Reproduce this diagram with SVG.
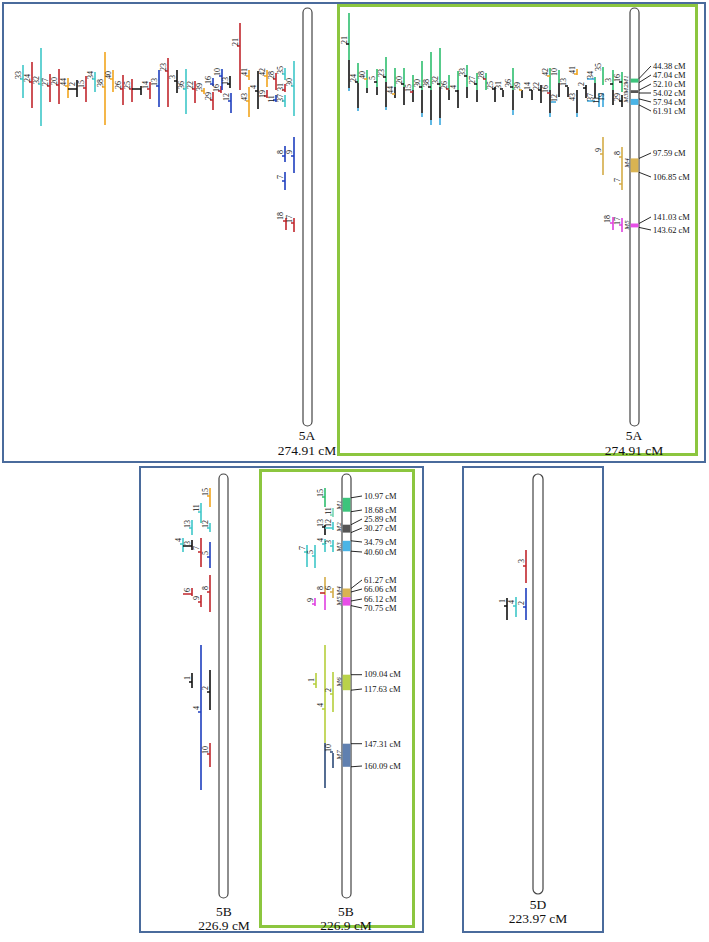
<svg xmlns="http://www.w3.org/2000/svg" width="709" height="942" viewBox="0 0 709 942">
<style>
.q{fill:none;stroke-width:1.6}
.r{stroke:#c1272d}.c{stroke:#3fc7c9}.o{stroke:#f2a51f}.b{stroke:#1f3fbf}.k{stroke:#111}
.g{stroke:#2fbf6f}.t{stroke:#3aa7dc}.au{stroke:#d4ac48}.m{stroke:#e040e0}.yg{stroke:#b6cf3c}.nv{stroke:#2c4a78}.tl{stroke:#79d6b4}
.n{font-family:"Liberation Serif",serif;font-size:8px;text-anchor:middle;dominant-baseline:central;fill:#111}
.mi{font-family:"Liberation Serif",serif;font-size:7px;font-style:italic;text-anchor:middle;dominant-baseline:central;fill:#111}
.cm{font-family:"Liberation Serif",serif;font-size:8.5px;dominant-baseline:central;fill:#111}
.ttl{font-family:"Liberation Serif",serif;font-size:13.5px;text-anchor:middle;fill:#111}
.chr{fill:#fff;stroke:#444;stroke-width:1.2}
.ld{stroke:#111;stroke-width:0.9;fill:none}
.pb{fill:none;stroke:#4a6b9c;stroke-width:2}
.pg{fill:none;stroke:#8cc63f;stroke-width:3}
</style>
<g id="panels">
<rect class="pb" x="3" y="3" width="702" height="459"/>
<rect class="pg" x="338.5" y="5.5" width="358" height="449"/>
<rect class="pb" x="140" y="467" width="283" height="465"/>
<rect class="pg" x="260.5" y="470.5" width="153" height="456"/>
<rect class="pb" x="463" y="467" width="140" height="465"/>
</g>
<g id="chr5A-left">
<rect class="chr" x="303" y="8" width="9" height="418" rx="4.5"/>
<text class="ttl" x="307" y="440">5A</text>
<text class="ttl" x="307" y="455">274.91 cM</text>
<path class="q c" d="M23 65V98M20 79H23M41 48V126M38 84H41M95 72V92M92 79H95M186 69V114M183 89H186M285 68V80M282 74H285M285 95V107M282 101H285M294 61V116M291 86H294"/>
<path class="q r" d="M32 62V108M29 82H32M50 74V102M47 86H50M59 69V104M56 85H59M86 76V102M83 88H86M123 75V105M120 89H123M132 79V102M129 89H132M150 82V99M147 89H150M168 58V107M165 71H168M195 81V103M192 89H195M213 92V110M210 100H213M221 86V93M218 91H221M240 23V90M237 46H240M267 90V98M264 96H267M276 73V90M273 79H276M285 84V92M282 90H285M286 218V230M283 221H286M294 218V232M291 223H294"/>
<path class="q o" d="M68 78V98M65 86H68M105 52V125M102 87H105M113 70V92M110 79H113M204 88V94M201 91H204M249 70V80M246 76H249M249 87V117M246 101H249M267 70V87M264 76H267"/>
<path class="q k" d="M77 80V97M68 89H77M141 86V95M132 89H141M177 70V93M174 81H177M230 76V88M227 84H230M258 71V109M255 91H258"/>
<path class="q b" d="M159 70V107M156 86H159M213 78V86M210 84H213M222 69V90M219 76H222M231 93V113M228 101H231M276 95V102M273 100H276M294 137V173M291 156H294M285 146V162M282 156H285M285 172V190M282 181H285"/>
<text class="n" transform="translate(18,75) rotate(-90)">33</text>
<text class="n" transform="translate(27,78) rotate(-90)">24</text>
<text class="n" transform="translate(36,80) rotate(-90)">32</text>
<text class="n" transform="translate(45,82) rotate(-90)">27</text>
<text class="n" transform="translate(54,81) rotate(-90)">20</text>
<text class="n" transform="translate(63,82) rotate(-90)">44</text>
<text class="n" transform="translate(72,84) rotate(-90)">2</text>
<text class="n" transform="translate(81,84) rotate(-90)">15</text>
<text class="n" transform="translate(90,75) rotate(-90)">34</text>
<text class="n" transform="translate(100,83) rotate(-90)">38</text>
<text class="n" transform="translate(108,75) rotate(-90)">40</text>
<text class="n" transform="translate(118,85) rotate(-90)">26</text>
<text class="n" transform="translate(127,85) rotate(-90)">25</text>
<text class="n" transform="translate(145,85) rotate(-90)">14</text>
<text class="n" transform="translate(154,82) rotate(-90)">13</text>
<text class="n" transform="translate(163,67) rotate(-90)">23</text>
<text class="n" transform="translate(172,77) rotate(-90)">3</text>
<text class="n" transform="translate(181,85) rotate(-90)">36</text>
<text class="n" transform="translate(190,85) rotate(-90)">22</text>
<text class="n" transform="translate(199,87) rotate(-90)">39</text>
<text class="n" transform="translate(208,96) rotate(-90)">29</text>
<text class="n" transform="translate(208,80) rotate(-90)">16</text>
<text class="n" transform="translate(217,72) rotate(-90)">10</text>
<text class="n" transform="translate(216,88) rotate(-90)">16</text>
<text class="n" transform="translate(225,81) rotate(-90)">13</text>
<text class="n" transform="translate(226,97) rotate(-90)">12</text>
<text class="n" transform="translate(235,42) rotate(-90)">21</text>
<text class="n" transform="translate(244,72) rotate(-90)">41</text>
<text class="n" transform="translate(244,97) rotate(-90)">43</text>
<text class="n" transform="translate(253,87) rotate(-90)">4</text>
<text class="n" transform="translate(262,72) rotate(-90)">42</text>
<text class="n" transform="translate(262,94) rotate(-90)">19</text>
<text class="n" transform="translate(271,75) rotate(-90)">28</text>
<text class="n" transform="translate(271,99) rotate(-90)">11</text>
<text class="n" transform="translate(280,70) rotate(-90)">35</text>
<text class="n" transform="translate(280,87) rotate(-90)">31</text>
<text class="n" transform="translate(280,98) rotate(-90)">37</text>
<text class="n" transform="translate(289,82) rotate(-90)">30</text>
<text class="n" transform="translate(289,152) rotate(-90)">9</text>
<text class="n" transform="translate(280,152) rotate(-90)">8</text>
<text class="n" transform="translate(280,177) rotate(-90)">7</text>
<text class="n" transform="translate(280,216) rotate(-90)">18</text>
<text class="n" transform="translate(289,219) rotate(-90)">17</text>
</g>
<g id="chr5A-right">
<rect class="chr" x="630" y="8" width="9" height="418" rx="4.5"/>
<rect x="630.6" y="78.6" width="7.8" height="4" fill="#3cc47c"/>
<rect x="630.6" y="90.2" width="7.8" height="2.8" fill="#555"/>
<rect x="630.6" y="98.9" width="7.8" height="6" fill="#4ab4e6"/>
<rect x="630.6" y="158.4" width="7.8" height="13.9" fill="#d9b352"/>
<rect x="630.6" y="223.5" width="7.8" height="3.9" fill="#e84ee8"/>
<text class="ttl" x="634" y="440">5A</text>
<text class="ttl" x="634" y="455">274.91 cM</text>
<path class="q g" d="M349 13V60M358 63V83M367 70V88M377 69V87M386 57V82M395 68V87M404 68V87M413 75V90M422 61V90M431 52V90M440 48V87M449 75V90M458 71V90M467 65V87M477 73V90M486 73V90M513 68V90M550 68V90M559 70V83M595 77V83M603 67V85M613 70V90M622 72V92"/>
<path class="q k" d="M349 60V88M358 83V108M367 88V93M377 87V95M386 82V107M395 87V98M404 87V105M413 90V102M422 90V113M431 90V120M440 87V118M449 90V100M458 90V108M467 87V98M477 90V102M495 87V102M503 90V97M513 90V110M522 90V98M532 90V100M541 85V103M550 90V113M559 83V97M568 87V97M577 90V113M586 85V98M595 83V98M613 90V105M622 95V107M346 44H349M355 82H358M374 82H377M383 77H386M401 84H404M419 87H422M428 87H431M437 84H440M455 91H458M464 76H467M474 84H477M492 89H495M500 89H503M510 87H513M529 90H532M538 90H541M565 86H568M583 88H586M610 84H613M619 82H622M619 101H622"/>
<path class="q t" d="M349 88V91M358 108V111M386 107V110M422 113V117M431 120V125M440 118V125M513 110V115M550 113V117M577 113V117M599 93V107M603 93V107M551 102H556M587 79H595M587 101H595"/>
<path class="q o" d="M577 69V75M364 79H367M392 94H395M519 90H522M547 76H550M574 74H577"/>
<path class="q r" d="M410 92H413M446 89H449M483 79H486M547 93H550"/>
<path class="q au" d="M603 137V175M622 147V190M600 154H603M619 157H622M619 184H622"/>
<path class="q m" d="M613 217V230M622 218V232M610 223H613M619 225H622"/>
<text class="n" transform="translate(344,40) rotate(-90)">21</text>
<text class="n" transform="translate(353,78) rotate(-90)">24</text>
<text class="n" transform="translate(362,75) rotate(-90)">40</text>
<text class="n" transform="translate(372,78) rotate(-90)">5</text>
<text class="n" transform="translate(381,73) rotate(-90)">23</text>
<text class="n" transform="translate(390,90) rotate(-90)">44</text>
<text class="n" transform="translate(399,80) rotate(-90)">20</text>
<text class="n" transform="translate(408,88) rotate(-90)">15</text>
<text class="n" transform="translate(417,83) rotate(-90)">30</text>
<text class="n" transform="translate(426,83) rotate(-90)">38</text>
<text class="n" transform="translate(435,80) rotate(-90)">32</text>
<text class="n" transform="translate(444,85) rotate(-90)">26</text>
<text class="n" transform="translate(453,87) rotate(-90)">4</text>
<text class="n" transform="translate(462,72) rotate(-90)">33</text>
<text class="n" transform="translate(472,80) rotate(-90)">27</text>
<text class="n" transform="translate(481,75) rotate(-90)">28</text>
<text class="n" transform="translate(490,85) rotate(-90)">25</text>
<text class="n" transform="translate(498,85) rotate(-90)">31</text>
<text class="n" transform="translate(508,83) rotate(-90)">36</text>
<text class="n" transform="translate(517,86) rotate(-90)">39</text>
<text class="n" transform="translate(527,86) rotate(-90)">14</text>
<text class="n" transform="translate(536,86) rotate(-90)">22</text>
<text class="n" transform="translate(545,89) rotate(-90)">16</text>
<text class="n" transform="translate(545,72) rotate(-90)">42</text>
<text class="n" transform="translate(554,72) rotate(-90)">10</text>
<text class="n" transform="translate(554,98) rotate(-90)">12</text>
<text class="n" transform="translate(563,82) rotate(-90)">13</text>
<text class="n" transform="translate(572,70) rotate(-90)">41</text>
<text class="n" transform="translate(572,97) rotate(-90)">43</text>
<text class="n" transform="translate(581,84) rotate(-90)">2</text>
<text class="n" transform="translate(590,75) rotate(-90)">34</text>
<text class="n" transform="translate(590,97) rotate(-90)">37</text>
<text class="n" transform="translate(598,67) rotate(-90)">35</text>
<text class="n" transform="translate(596,100) rotate(-90)">11</text>
<text class="n" transform="translate(601,97) rotate(-90)">19</text>
<text class="n" transform="translate(608,80) rotate(-90)">3</text>
<text class="n" transform="translate(617,78) rotate(-90)">16</text>
<text class="n" transform="translate(617,97) rotate(-90)">29</text>
<text class="n" transform="translate(598,150) rotate(-90)">9</text>
<text class="n" transform="translate(617,153) rotate(-90)">8</text>
<text class="n" transform="translate(617,180) rotate(-90)">7</text>
<text class="n" transform="translate(607,219) rotate(-90)">18</text>
<text class="n" transform="translate(617,221) rotate(-90)">17</text>
<text class="mi" transform="translate(626,80) rotate(-90)">M1</text>
<text class="mi" transform="translate(626,89) rotate(-90)">M2</text>
<text class="mi" transform="translate(626,98) rotate(-90)">M3</text>
<text class="mi" transform="translate(627,163) rotate(-90)">M4</text>
<text class="mi" transform="translate(627,225) rotate(-90)">M5</text>
<path class="ld" d="M639 78.6L651 66M639 82.6L651 75M639 90.2L651 84M639 93L651 93M639 98.9L651 102M639 104.9L651 111M639 158.4L651 153M639 172.3L651 177M639 223.5L651 217M639 227.4L651 230"/>
<text class="cm" x="653" y="66">44.38 cM</text>
<text class="cm" x="653" y="75">47.04 cM</text>
<text class="cm" x="653" y="84">52.10 cM</text>
<text class="cm" x="653" y="93">54.02 cM</text>
<text class="cm" x="653" y="102">57.94 cM</text>
<text class="cm" x="653" y="111">61.91 cM</text>
<text class="cm" x="653" y="153">97.59 cM</text>
<text class="cm" x="653" y="177">106.85 cM</text>
<text class="cm" x="653" y="217">141.03 cM</text>
<text class="cm" x="653" y="230">143.62 cM</text>
</g>
<g id="chr5B-left">
<rect class="chr" x="219" y="474" width="9" height="424" rx="4.5"/>
<text class="ttl" x="224" y="916">5B</text>
<text class="ttl" x="224" y="930">226.9 cM</text>
<path class="q o" d="M210 488V507M207 496H210"/>
<path class="q c" d="M201 503V523M198 512H201M210 523V532M207 528H210M192 520V535M189 528H192M183 538V552M180 544H183"/>
<path class="q k" d="M192 540V550M183 546H192M192 673V688M189 682H192M210 670V710M207 692H210"/>
<path class="q r" d="M201 538V567M198 552H201M192 588V596M183 594H192M201 595V607M198 602H201M210 575V612M207 592H210M210 743V767M207 754H210"/>
<path class="q b" d="M210 542V568M207 557H210M201 645V790M198 712H201"/>
<text class="n" transform="translate(205,492) rotate(-90)">15</text>
<text class="n" transform="translate(196,508) rotate(-90)">11</text>
<text class="n" transform="translate(205,524) rotate(-90)">12</text>
<text class="n" transform="translate(187,524) rotate(-90)">13</text>
<text class="n" transform="translate(178,540) rotate(-90)">4</text>
<text class="n" transform="translate(187,543) rotate(-90)">3</text>
<text class="n" transform="translate(196,548) rotate(-90)">7</text>
<text class="n" transform="translate(205,553) rotate(-90)">5</text>
<text class="n" transform="translate(187,590) rotate(-90)">6</text>
<text class="n" transform="translate(196,598) rotate(-90)">9</text>
<text class="n" transform="translate(205,588) rotate(-90)">8</text>
<text class="n" transform="translate(196,708) rotate(-90)">4</text>
<text class="n" transform="translate(187,678) rotate(-90)">1</text>
<text class="n" transform="translate(205,688) rotate(-90)">2</text>
<text class="n" transform="translate(205,750) rotate(-90)">10</text>
</g>
<g id="chr5B-right">
<rect class="chr" x="342" y="474" width="9" height="424" rx="4.5"/>
<rect x="342.6" y="497.8" width="7.8" height="13.9" fill="#3cc47c"/>
<rect x="342.6" y="524.7" width="7.8" height="7.9" fill="#555"/>
<rect x="342.6" y="540.8" width="7.8" height="10.4" fill="#4ab4e6"/>
<rect x="342.6" y="588.5" width="7.8" height="8.7" fill="#d9b352"/>
<rect x="342.6" y="597.3" width="7.8" height="8.3" fill="#e84ee8"/>
<rect x="342.6" y="674.7" width="7.8" height="15.5" fill="#b9d24a"/>
<rect x="342.6" y="743.7" width="7.8" height="23.1" fill="#6080b0"/>
<text class="ttl" x="346" y="916">5B</text>
<text class="ttl" x="346" y="930">226.9 cM</text>
<path class="q g" d="M325 488V507M322 497H325"/>
<path class="q tl" d="M333 508V517M330 515H333"/>
<path class="q k" d="M325 525V535M322 527H325"/>
<path class="q c" d="M333 522V530M325 528H333M325 539V552M322 544H325M333 540V552M330 546H333M307 545V567M304 552H307M315 545V568M312 556H315"/>
<path class="q au" d="M325 577V595M333 588V598M330 592H333"/>
<path class="q r" d="M320 593H325"/>
<path class="q m" d="M325 595V610M315 598V606M312 604H315"/>
<path class="q yg" d="M325 645V743M322 709H325M316 673V688M313 684H316M333 672V712M330 694H333"/>
<path class="q nv" d="M325 743V788M333 753V768M330 752H333"/>
<text class="n" transform="translate(320,493) rotate(-90)">15</text>
<text class="n" transform="translate(328,511) rotate(-90)">11</text>
<text class="n" transform="translate(320,523) rotate(-90)">13</text>
<text class="n" transform="translate(328,523) rotate(-90)">12</text>
<text class="n" transform="translate(320,540) rotate(-90)">4</text>
<text class="n" transform="translate(328,542) rotate(-90)">3</text>
<text class="n" transform="translate(302,548) rotate(-90)">7</text>
<text class="n" transform="translate(310,552) rotate(-90)">5</text>
<text class="n" transform="translate(320,588) rotate(-90)">8</text>
<text class="n" transform="translate(328,588) rotate(-90)">6</text>
<text class="n" transform="translate(310,600) rotate(-90)">9</text>
<text class="n" transform="translate(320,705) rotate(-90)">4</text>
<text class="n" transform="translate(311,680) rotate(-90)">1</text>
<text class="n" transform="translate(328,690) rotate(-90)">2</text>
<text class="n" transform="translate(328,748) rotate(-90)">10</text>
<text class="mi" transform="translate(339,505) rotate(-90)">M1</text>
<text class="mi" transform="translate(339,527) rotate(-90)">M2</text>
<text class="mi" transform="translate(339,547) rotate(-90)">M3</text>
<text class="mi" transform="translate(339,591) rotate(-90)">M4</text>
<text class="mi" transform="translate(339,601) rotate(-90)">M5</text>
<text class="mi" transform="translate(339,682) rotate(-90)">M6</text>
<text class="mi" transform="translate(339,755) rotate(-90)">M7</text>
<path class="ld" d="M351 497.8L362 496M351 511.7L362 510M351 524.7L362 519M351 532.6L362 528M351 540.8L362 542M351 551.2L362 552M351 588.5L362 580M351 592L362 589M351 601L362 599M351 605.6L362 608M351 674.7H362M351 690.2L362 689M351 743.7H362M351 766.8L362 766"/>
<text class="cm" x="364" y="496">10.97 cM</text>
<text class="cm" x="364" y="510">18.68 cM</text>
<text class="cm" x="364" y="519">25.89 cM</text>
<text class="cm" x="364" y="528">30.27 cM</text>
<text class="cm" x="364" y="542">34.79 cM</text>
<text class="cm" x="364" y="552">40.60 cM</text>
<text class="cm" x="364" y="580">61.27 cM</text>
<text class="cm" x="364" y="589">66.06 cM</text>
<text class="cm" x="364" y="599">66.12 cM</text>
<text class="cm" x="364" y="608">70.75 cM</text>
<text class="cm" x="364" y="674">109.04 cM</text>
<text class="cm" x="364" y="689">117.63 cM</text>
<text class="cm" x="364" y="744">147.31 cM</text>
<text class="cm" x="364" y="766">160.09 cM</text>
</g>
<g id="chr5D">
<rect class="chr" x="533" y="474" width="10" height="420" rx="5"/>
<text class="ttl" x="538" y="909">5D</text>
<text class="ttl" x="538" y="923">223.97 cM</text>
<path class="q r" d="M526 550V583M523 566H526"/>
<path class="q b" d="M526 588V620M523 607H526"/>
<path class="q k" d="M507 598V620M504 606H507"/>
<path class="q c" d="M516 597V617M513 606H516"/>
<text class="n" transform="translate(521,561) rotate(-90)">3</text>
<text class="n" transform="translate(521,603) rotate(-90)">2</text>
<text class="n" transform="translate(502,601) rotate(-90)">1</text>
<text class="n" transform="translate(511,602) rotate(-90)">4</text>
</g>
</svg>
